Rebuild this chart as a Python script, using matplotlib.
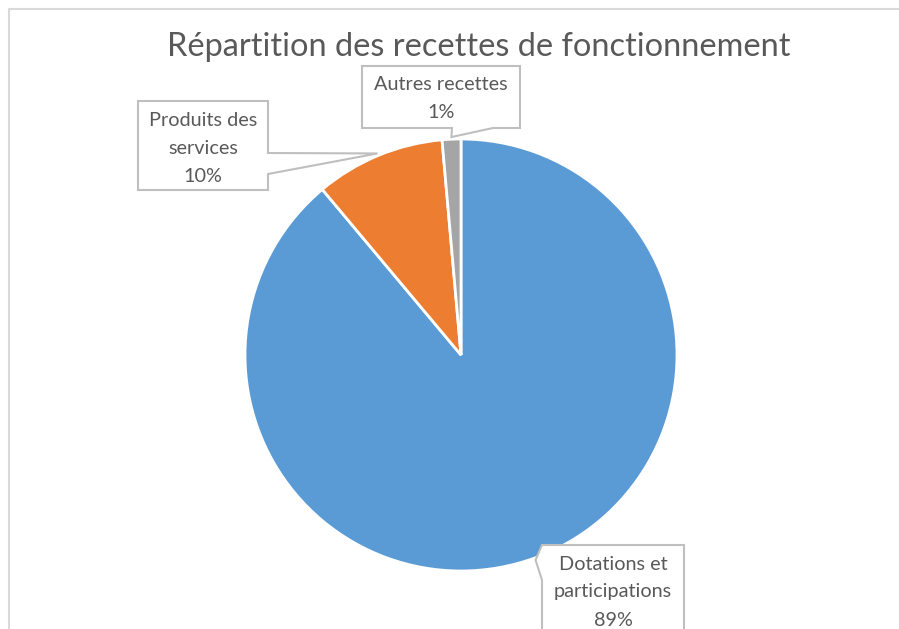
import numpy as np
import matplotlib
matplotlib.use("Agg")
from matplotlib import pyplot as plt
from matplotlib.patches import Polygon

# data
categories = ["Dotations et\nparticipations", "Produits des\nservices", "Autres recettes"]
shares = [88.9, 9.7, 1.4]
colors = ["#5B9BD5", "#ED7D31", "#A5A5A5"]
title = "Répartition des recettes de fonctionnement"

W, H = 899, 629
TXT = "#595959"
plt.rcParams["font.family"] = ["Lato", "DejaVu Sans"]

fig = plt.figure(figsize=(W / 100, H / 100), dpi=100)
# one axes over the whole figure, units = pixels (y up)
ax = fig.add_axes([0, 0, 1, 1])

def py(y):
    # pixel row (from top) -> axes y
    return H - y

cx, cy, rad = 461, py(355), 216
wedges, _ = ax.pie(shares, colors=colors, startangle=90, counterclock=False,
                   center=(cx, cy), radius=rad, frame=True,
                   wedgeprops=dict(edgecolor="white", linewidth=2))
ax.set_xlim(0, W)
ax.set_ylim(0, H)
ax.set_aspect("auto")
ax.axis("off")

# chart frame (top and left edges visible)
ax.plot([9, 9, W], [0, py(8.5), py(8.5)], color="#D9D9D9", lw=1.5, clip_on=False)

ax.text(479, py(47), title, ha="center", va="center", fontsize=23.4, color=TXT)

# callout boxes: (left, top, right, bottom) in pixels, edge with pointer, pointer base
boxes = [
    ((542, 545, 684, 640), "left", (545, 580)),
    ((138, 101, 268, 190), "right", (153, 174)),
    ((362, 66, 520, 128), "bottom", (452, 493)),
]

for w, lab, val, (box, side, base) in zip(wedges, categories, shares, boxes):
    mid = np.deg2rad((w.theta1 + w.theta2) / 2)
    tip = (cx + rad * 1.01 * np.cos(mid), cy + rad * 1.01 * np.sin(mid))
    x0, y0, x1, y1 = box
    if side == "left":
        pts = [(x0, py(y0)), (x1, py(y0)), (x1, py(y1)), (x0, py(y1)),
               (x0, py(base[1])), tip, (x0, py(base[0]))]
    elif side == "right":
        pts = [(x0, py(y0)), (x1, py(y0)), (x1, py(base[0])), tip,
               (x1, py(base[1])), (x1, py(y1)), (x0, py(y1))]
    else:
        pts = [(x0, py(y0)), (x1, py(y0)), (x1, py(y1)), (base[1], py(y1)),
               tip, (base[0], py(y1)), (x0, py(y1))]
    ax.add_patch(Polygon(pts, closed=True, facecolor="white", edgecolor="#BFBFBF",
                         lw=1.5, zorder=3, clip_on=False))
    txt = lab + "\n" + str(int(round(val))) + "%"
    tx = (x0 + x1) / 2
    ty = y0 + 19
    for i, line in enumerate(txt.split("\n")):
        ax.text(tx, py(ty + 28 * i), line, ha="center", va="center",
                fontsize=14.3, color=TXT, zorder=4)

fig.savefig("out.png", dpi=100)
